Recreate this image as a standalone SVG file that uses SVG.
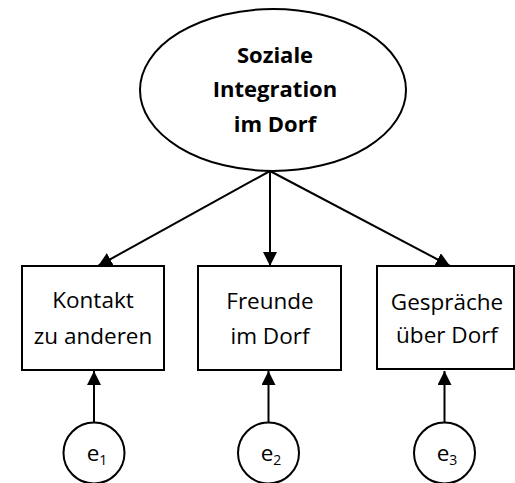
<svg xmlns="http://www.w3.org/2000/svg" width="515" height="483" viewBox="0 0 515 483">
<style>
.s{fill:#fff;stroke:#000;stroke-width:2}
.t{font-family:"Open Sans","Noto Sans",sans-serif;font-size:22.5px;fill:#000;text-anchor:middle}
.b{font-weight:bold;font-size:22px}
.c{stroke:#000;stroke-width:2;fill:none}
</style>
<defs>
<marker id="ah" viewBox="0 0 14 14" refX="14" refY="7" markerWidth="14" markerHeight="14" markerUnits="userSpaceOnUse" orient="auto">
<path d="M0,0 L14,7 L0,14 Z" fill="#000"/>
</marker>
</defs>
<rect width="515" height="483" fill="#fff"/>
<g id="latent">
<ellipse class="s" cx="273" cy="90" rx="133" ry="81"/>
<text class="t b" x="275" y="63">Soziale</text>
<text class="t b" x="275" y="97">Integration</text>
<text class="t b" x="275" y="132">im Dorf</text>
</g>
<g id="box1">
<rect class="s" x="22" y="266" width="142" height="104"/>
<text class="t" x="93" y="308">Kontakt</text>
<text class="t" x="93" y="344">zu anderen</text>
</g>
<g id="box2">
<rect class="s" x="198" y="266" width="143" height="104"/>
<text class="t" x="270" y="309">Freunde</text>
<text class="t" x="270" y="344">im Dorf</text>
</g>
<g id="box3">
<rect class="s" x="377" y="266" width="137" height="103"/>
<text class="t" x="447" y="310">Gespräche</text>
<text class="t" x="447" y="343">über Dorf</text>
</g>
<g id="e1">
<circle class="s" cx="94" cy="453" r="30.5"/>
<text class="t" x="97" y="461" font-size="22">e<tspan font-size="14" dy="4">1</tspan></text>
</g>
<g id="e2">
<circle class="s" cx="268.5" cy="453" r="30.5"/>
<text class="t" x="271" y="461" font-size="22">e<tspan font-size="14" dy="4">2</tspan></text>
</g>
<g id="e3">
<circle class="s" cx="444.5" cy="453" r="30.5"/>
<text class="t" x="447" y="461" font-size="22">e<tspan font-size="14" dy="4">3</tspan></text>
</g>
<g id="connectors">
<line class="c" x1="270" y1="171" x2="98" y2="266" marker-end="url(#ah)"/>
<line class="c" x1="270" y1="171" x2="270" y2="266" marker-end="url(#ah)"/>
<line class="c" x1="270" y1="171" x2="450" y2="266" marker-end="url(#ah)"/>
<line class="c" x1="94" y1="422" x2="94" y2="371" marker-end="url(#ah)"/>
<line class="c" x1="268.5" y1="422" x2="268.5" y2="371" marker-end="url(#ah)"/>
<line class="c" x1="444.5" y1="422" x2="444.5" y2="371" marker-end="url(#ah)"/>
</g>
</svg>
